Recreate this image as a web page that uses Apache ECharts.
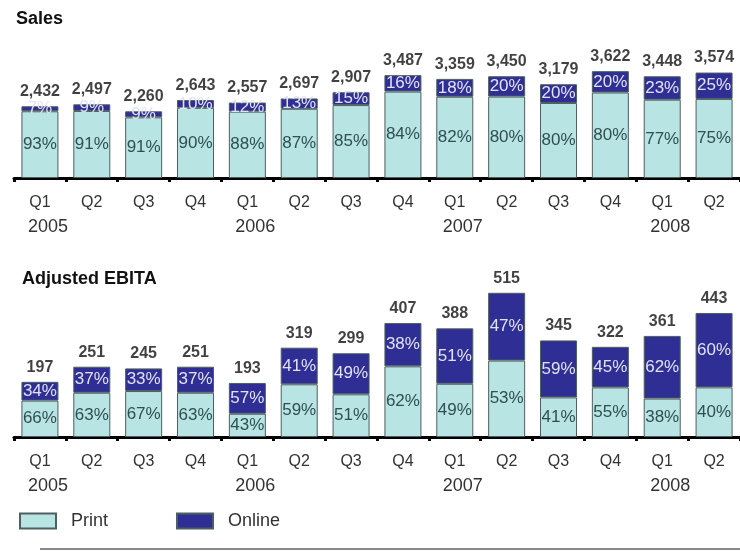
<!DOCTYPE html>
<html>
<head>
<meta charset="utf-8">
<script src="https://cdn.jsdelivr.net/npm/echarts@6/dist/echarts.min.js"></script>
<style>
html,body{margin:0;padding:0;background:#fff;}
#chart{width:740px;height:551px;}
</style>
</head>
<body>
<div id="chart"></div>
<script>
var quarters = ['Q1','Q2','Q3','Q4','Q1','Q2','Q3','Q4','Q1','Q2','Q3','Q4','Q1','Q2'];
var years = ['2005','','','','2006','','','','2007','','','','2008',''];

var salesTotal = [2432,2497,2260,2643,2557,2697,2907,3487,3359,3450,3179,3622,3448,3574];
var salesPrintPct = [93,91,91,90,88,87,85,84,82,80,80,80,77,75];
var salesOnlinePct = [7,9,9,10,12,13,15,16,18,20,20,20,23,25];

var ebitaTotal = [197,251,245,251,193,319,299,407,388,515,345,322,361,443];
var ebitaPrintPct = [66,63,67,63,43,59,51,62,49,53,41,55,38,40];
var ebitaOnlinePct = [34,37,33,37,57,41,49,38,51,47,59,45,62,60];

var FONT = 'Liberation Sans, Arial, sans-serif';
var PRINT_COLOR = '#b9e4e4';
var ONLINE_COLOR = '#2e2e94';

function part(total, pct){ return total.map(function(t,i){ return t*pct[i]/100; }); }
function fmt(n){ return n.toLocaleString('en-US'); }

function xAxis(gridIndex){
  return {
    type:'category', gridIndex:gridIndex, data:quarters,
    axisLine:{lineStyle:{color:'#000',width:3}},
    axisTick:{show:true,length:4,lineStyle:{color:'#000',width:3}},
    axisLabel:{
      margin:12, interval:0,
      formatter:function(v,i){ return years[i] ? '{q|'+v+'}\n{y|'+years[i]+'}' : '{q|'+v+'}'; },
      rich:{
        q:{fontFamily:FONT,fontSize:16,color:'#333',lineHeight:25},
        y:{fontFamily:FONT,fontSize:18,color:'#333',lineHeight:25,padding:[0,0,0,16]}
      }
    }
  };
}

function barSeries(name, stack, idx, values, pcts, color, labelColor){
  return {
    name:name, type:'bar', stack:stack, xAxisIndex:idx, yAxisIndex:idx,
    data:values, barWidth:37,
    itemStyle:{color:color,borderColor:'#4d5f60',borderWidth:1},
    label:{show:true,position:'inside',fontFamily:FONT,fontSize:17,color:labelColor,
      formatter:function(p){ return pcts[p.dataIndex]+'%'; }},
    emphasis:{disabled:true}, animation:false
  };
}

function totalSeries(idx, totals){
  return {
    name:'total'+idx, type:'scatter', xAxisIndex:idx, yAxisIndex:idx,
    data:totals, symbolSize:1, itemStyle:{color:'rgba(0,0,0,0)'},
    label:{show:true,position:'top',distance:6,fontFamily:FONT,fontSize:16,fontWeight:'bold',color:'#111',
      formatter:function(p){ return fmt(totals[p.dataIndex]); }},
    emphasis:{disabled:true}, animation:false, silent:true
  };
}

var chart = echarts.init(document.getElementById('chart'), null, {renderer:'canvas'});
chart.setOption({
  backgroundColor:'#fff',
  animation:false,
  title:[
    {text:'Sales',left:11,top:5,textStyle:{fontFamily:FONT,fontSize:18,fontWeight:'bold',color:'#111'}},
    {text:'Adjusted EBITA',left:17,top:265,textStyle:{fontFamily:FONT,fontSize:18,fontWeight:'bold',color:'#111'}}
  ],
  legend:{
    data:['Print','Online'], left:14, top:507, itemWidth:36, itemHeight:15, itemGap:68, icon:'rect',
    textStyle:{fontFamily:FONT,fontSize:18,color:'#333',padding:[0,0,0,10]}
  },
  grid:[
    {left:14,width:727,top:60,height:118},
    {left:14,width:727,top:269,height:168}
  ],
  xAxis:[xAxis(0), xAxis(1)],
  yAxis:[
    {type:'value',gridIndex:0,min:0,max:4000,show:false},
    {type:'value',gridIndex:1,min:0,max:600,show:false}
  ],
  series:[
    barSeries('Print','s',0,part(salesTotal,salesPrintPct),salesPrintPct,PRINT_COLOR,'#2f4f50'),
    barSeries('Online','s',0,part(salesTotal,salesOnlinePct),salesOnlinePct,ONLINE_COLOR,'#e2e2f6'),
    totalSeries(0, salesTotal),
    barSeries('Print','e',1,part(ebitaTotal,ebitaPrintPct),ebitaPrintPct,PRINT_COLOR,'#2f4f50'),
    barSeries('Online','e',1,part(ebitaTotal,ebitaOnlinePct),ebitaOnlinePct,ONLINE_COLOR,'#e2e2f6'),
    totalSeries(1, ebitaTotal)
  ],
  graphic:[
    {type:'line',shape:{x1:40,y1:549,x2:740,y2:549},style:{stroke:'#8a8a8a',lineWidth:2},silent:true}
  ]
});
</script>
</body>
</html>
